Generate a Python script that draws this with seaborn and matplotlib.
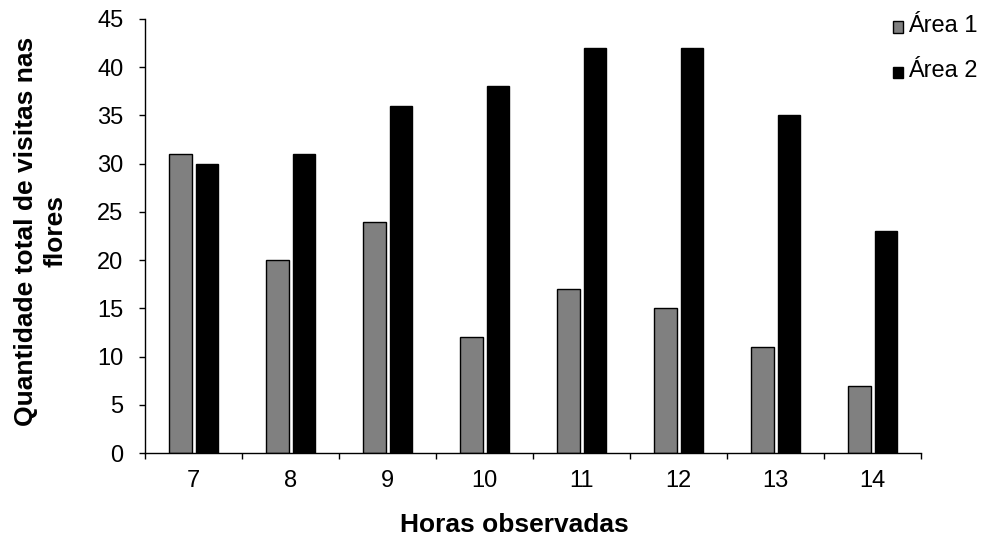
import matplotlib
matplotlib.use("Agg")
import matplotlib.pyplot as plt
import seaborn as sns
import pandas as pd
from matplotlib.patches import Rectangle
from matplotlib.legend_handler import HandlerPatch
from matplotlib.ticker import FixedLocator, MultipleLocator

horas = ["7", "8", "9", "10", "11", "12", "13", "14"]
area1 = [31, 20, 24, 12, 17, 15, 11, 7]
area2 = [30, 31, 36, 38, 42, 42, 35, 23]
series = ["Área 1", "Área 2"]
colors = ["#808080", "#000000"]

df = pd.DataFrame({
    "Horas": horas * 2,
    "Visitas": area1 + area2,
    "Área": [series[0]] * len(horas) + [series[1]] * len(horas),
})

sns.set_theme(style="white")
plt.rcParams["font.family"] = ["Liberation Sans", "DejaVu Sans"]

fig = plt.figure(figsize=(9.84, 5.4), dpi=100)
ax = fig.add_axes([0.1474, 0.161, 0.7886, 0.804])

sns.barplot(data=df, x="Horas", y="Visitas", hue="Área", order=horas,
            hue_order=series, palette=colors, width=0.55, gap=0.15,
            edgecolor="black", linewidth=1.0, saturation=1, ax=ax,
            legend=True)

ax.set_xlim(-0.5, len(horas) - 0.5)
ax.set_ylim(0, 45)
ax.yaxis.set_major_locator(MultipleLocator(5))

# tick marks sit between categories, labels at category centres
ax.xaxis.set_minor_locator(FixedLocator([i - 0.5 for i in range(len(horas) + 1)]))
ax.tick_params(axis="x", which="major", length=0, pad=12.5, labelsize=17, labelcolor="black")
ax.tick_params(axis="x", which="minor", length=4.5, width=1, direction="out", color="black", bottom=True)
ax.tick_params(axis="y", length=4.5, width=1, direction="out", left=True, labelsize=17,
               labelcolor="black", color="black", pad=11)

for side in ["top", "right"]:
    ax.spines[side].set_visible(False)
for side in ["left", "bottom"]:
    ax.spines[side].set_color("black")
    ax.spines[side].set_linewidth(1)

ax.set_xlabel("Horas observadas", fontsize=19, fontweight="bold", color="black")
ax.xaxis.set_label_coords(0.4755, -0.138, transform=ax.transAxes)
ax.xaxis.label.set_va("top")
ax.set_ylabel("Quantidade total de visitas nas\nflores", fontsize=19,
              fontweight="bold", linespacing=1.27, color="black")
ax.yaxis.set_label_coords(-0.1005, 0.5115, transform=ax.transAxes)


def low_square(legend, orig_handle, xdescent, ydescent, width, height, fontsize):
    # legend swatch sitting on the text baseline
    return Rectangle((-xdescent, -ydescent - 2.5), width, height)


handles, labels = ax.get_legend_handles_labels()
leg = ax.legend(handles, labels, loc="upper left", bbox_to_anchor=(0.898, 0.99),
                bbox_transform=fig.transFigure, frameon=False, fontsize=17,
                handlelength=0.42, handleheight=0.4, handletextpad=0.2,
                labelspacing=1.0, borderaxespad=0, labelcolor="black",
                handler_map={Rectangle: HandlerPatch(patch_func=low_square)})

fig.savefig("out.png", dpi=100)
